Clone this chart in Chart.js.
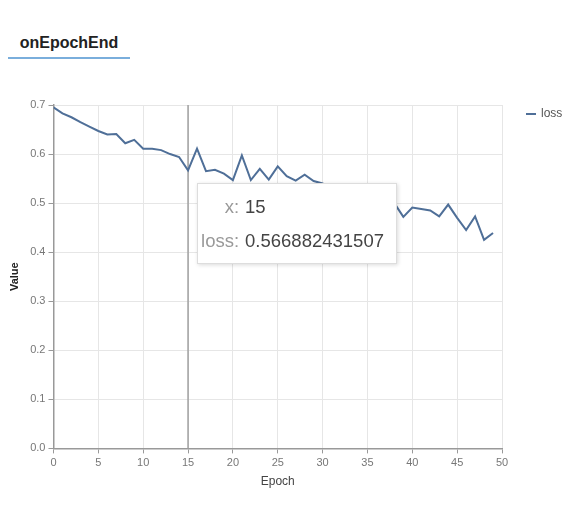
<!DOCTYPE html>
<html>

<head>
    <title>onEpochEnd</title>
    <!-- Chart JS -->
    <script src="https://cdn.jsdelivr.net/npm/chart.js@4.4.0/dist/chart.umd.min.js"></script>
    <style>
        body { margin: 0; background: #fff; font-family: "Liberation Sans", Arial, sans-serif; }
        #tab { position: absolute; left: 8px; top: 29px; width: 122px; height: 28px;
               border-bottom: 2px solid #7aaedc; text-align: center; font-size: 16px;
               font-weight: bold; color: #222; line-height: 28px; }
        #wrap { position: absolute; left: 0; top: 88px; width: 568px; height: 414px; }
        #legend { position: absolute; left: 526px; top: 106px; font-size: 12px; color: #555; }
        #legend span.sw { display: inline-block; width: 10px; height: 0; border-top: 2px solid;
                          vertical-align: middle; margin-right: 5px; }
        #tip { position: absolute; display: none; background: #fff; border: 1px solid #ddd;
               box-shadow: 1px 1px 4px rgba(0,0,0,0.15); padding: 6px 12px 5px 3px;
               font-size: 18.5px; pointer-events: none; }
        #tip td { padding: 6px 0; }
        #tip td.k { color: #999; text-align: right; padding-right: 6px; min-width: 38px; }
        #tip td.v { color: #444; }
    </style>
</head>

<body>
    <div id="tab">onEpochEnd</div>
    <div id="wrap"><canvas id="myChart"></canvas></div>
    <div id="legend"></div>
    <div id="tip"></div>
    <script>

        // epoch index 0..49
        var epochs = [];
        for (var i = 0; i < 50; i++) epochs.push(i);

        // loss per epoch (30-37 hidden behind the tooltip)
        var loss = [0.695, 0.683, 0.675, 0.665, 0.656, 0.647, 0.640, 0.641, 0.622, 0.629,
                    0.611, 0.611, 0.608, 0.600, 0.594, 0.566882431507, 0.611, 0.565, 0.568, 0.560,
                    0.547, 0.597, 0.547, 0.570, 0.548, 0.575, 0.555, 0.546, 0.558, 0.545,
                    0.540, 0.530, 0.536, 0.522, 0.527, 0.512, 0.517, 0.503, 0.500, 0.472,
                    0.491, 0.488, 0.485, 0.473, 0.497, 0.470, 0.445, 0.473, 0.425, 0.439];

        var hoverIndex = 15;

        var points = epochs.map(function (e, i) { return { x: e, y: loss[i] }; });

        function externalTip(context) {
            var tip = document.getElementById('tip');
            var t = context.tooltip;
            if (t.opacity === 0) { tip.style.display = 'none'; return; }
            var p = t.dataPoints[0];
            tip.innerHTML = '<table cellspacing="0">' +
                '<tr><td class="k">x:</td><td class="v">' + p.parsed.x + '</td></tr>' +
                '<tr><td class="k">' + p.dataset.label + ':</td><td class="v">' + p.raw.y + '</td></tr>' +
                '</table>';
            var box = context.chart.canvas.getBoundingClientRect();
            tip.style.display = 'block';
            tip.style.left = (box.left + t.caretX + 9) + 'px';
            tip.style.top = (box.top + t.caretY + 13) + 'px';
        }

        // vertical hover rule
        var hoverLine = {
            id: 'hoverLine',
            beforeDatasetsDraw: function (chart) {
                var act = chart.tooltip.getActiveElements();
                if (!act.length) return;
                var x = act[0].element.x;
                var ctx = chart.ctx;
                ctx.save();
                ctx.strokeStyle = '#a0a0a0';
                ctx.lineWidth = 1.5;
                ctx.beginPath();
                ctx.moveTo(x, chart.chartArea.top);
                ctx.lineTo(x, chart.chartArea.bottom);
                ctx.stroke();
                ctx.restore();
            }
        };

        var ctx = document.getElementById('myChart').getContext('2d');
        var chart = new Chart(ctx, {
            type: 'line',
            data: {
                datasets: [{
                    label: 'loss',
                    data: points,
                    fill: false,
                    borderColor: '#4f6f98',
                    backgroundColor: '#4f6f98',
                    borderWidth: 2,
                    pointRadius: 0,
                    pointHoverRadius: 0,
                    tension: 0
                }]
            },
            plugins: [hoverLine],
            options: {
                responsive: true,
                maintainAspectRatio: false,
                animation: false,
                events: [],
                layout: { padding: { top: 17, right: 66, left: 2, bottom: 9 } },
                plugins: {
                    legend: { display: false },
                    tooltip: { enabled: false, external: externalTip }
                },
                scales: {
                    x: {
                        type: 'linear',
                        min: 0,
                        max: 50,
                        ticks: { stepSize: 5, color: '#777', font: { family: 'Liberation Sans', size: 11 } },
                        grid: { color: '#e6e6e6', tickColor: '#999', tickLength: 5 },
                        border: { color: '#999', width: 1.5 },
                        title: { display: true, text: 'Epoch', color: '#444', font: { family: 'Liberation Sans', size: 12 }, padding: { top: 2 } }
                    },
                    y: {
                        min: 0,
                        max: 0.7,
                        ticks: { stepSize: 0.1, color: '#777', font: { family: 'Liberation Sans', size: 11 },
                                 callback: function (v) { return v.toFixed(1); } },
                        grid: { color: '#e6e6e6', tickColor: '#999', tickLength: 5 },
                        border: { color: '#999', width: 1.5 },
                        title: { display: true, text: 'Value', color: '#222', font: { family: 'Liberation Sans', size: 11, weight: 'bold' }, padding: 6 }
                    }
                }
            }
        });

        // legend built from the datasets
        document.getElementById('legend').innerHTML = chart.data.datasets.map(function (d) {
            return '<div><span class="sw" style="border-color:' + d.borderColor + '"></span>' + d.label + '</div>';
        }).join('');

        chart.tooltip.setActiveElements([{ datasetIndex: 0, index: hoverIndex }], { x: 0, y: 0 });
        chart.update();
    </script>

</body>

</html>
